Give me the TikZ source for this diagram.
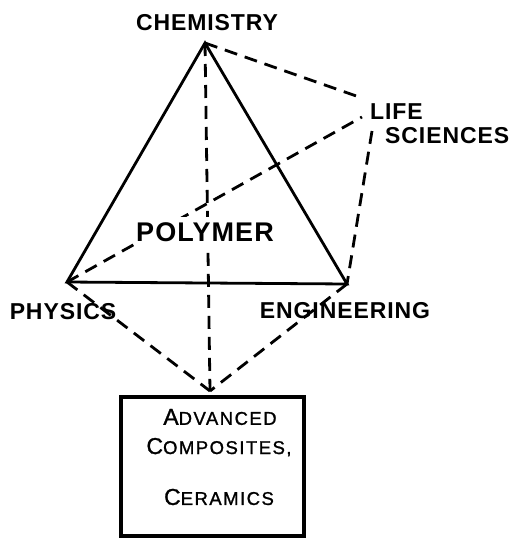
\documentclass[tikz,border=0pt]{standalone}
\usepackage{fontspec}
\setmainfont{Liberation Sans}
\newfontfamily\letterfont[LetterSpace=4]{Liberation Sans}
\newfontfamily\boxfont[LetterSpace=8,FakeBold=1.2]{Liberation Sans}
\usetikzlibrary{positioning}
% big first letter, smaller rest (lettering of the box)
\newcommand{\capsc}[2]{\boxfont{\fontsize{23}{23}\selectfont #1}{\fontsize{18.5}{18.5}\selectfont #2}}

\begin{document}
\begin{tikzpicture}[x=1pt,y=-1pt,
  field/.style={font=\letterfont\bfseries\fontsize{23}{23}\selectfont,inner sep=0pt},
  side/.style={line width=2.8pt,line join=miter},
  link/.style={line width=2.8pt,dash pattern=on 13pt off 8pt},
  boxline/.style={inner sep=0pt}]
\useasboundingbox (0,0) rectangle (510,538);
% corners
\coordinate (chem) at (205,43);
\coordinate (phys) at (67,282);
\coordinate (eng) at (347,284);
\coordinate (lifetop) at (362,98);
\coordinate (lifemid) at (362,117);
\coordinate (lifelow) at (372,131);
\coordinate (hub) at (210,391);
% labels
\node[field] (chemlab) at (207,23) {CHEMISTRY};
\node[field] (physlab) at (63,312) {PHYSICS};
\node[field] (englab) at (345,311) {ENGINEERING};
\node[field,anchor=west] (life) at (370,112) {LIFE};
\node[field,anchor=west] (sci) at (385,136) {SCIENCES};
% box
\node[draw,line width=3.5pt,minimum width=183pt,minimum height=139pt,inner sep=0pt] (box) at (212.5,466.5) {};
\node[boxline] (adv) at (220,417) {\capsc{A}{DVANCED}};
\node[boxline,anchor=base] (comp) at (219,454) {\capsc{C}{OMPOSITES,}};
\node[boxline] (cer) at (219,497) {\capsc{C}{ERAMICS}};
% triangle
\draw[side] (chem) -- (eng) -- (phys) -- cycle;
% dashed ties
\draw[link] (chem) -- (lifetop);
\draw[link] (phys) -- (lifemid);
\draw[link] (lifelow) -- (eng);
\draw[link] (chem) -- (hub);
\draw[link] (phys) -- (hub);
\draw[link] (eng) -- (hub);
% centre label over the ties
\node[field,font=\letterfont\bfseries\fontsize{27}{27}\selectfont,fill=white,inner xsep=2pt,inner ysep=5pt] (poly) at (205,232) {POLYMER};
\end{tikzpicture}
\end{document}
